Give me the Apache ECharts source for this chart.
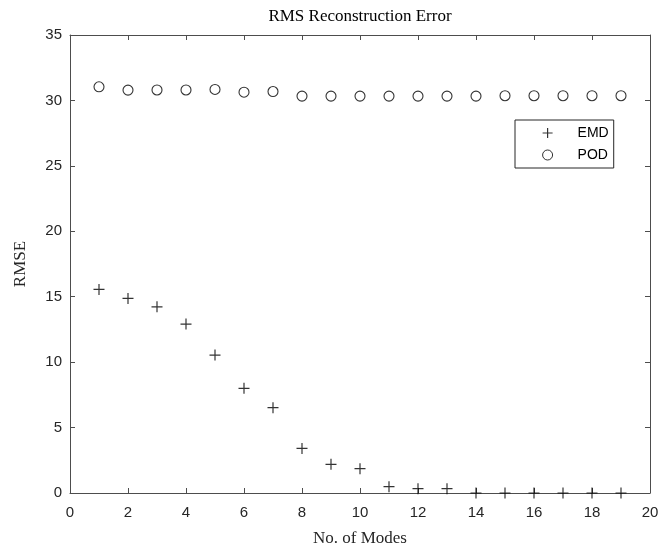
<!DOCTYPE html>
<html>
<head>
<meta charset="utf-8">
<script src="https://cdn.jsdelivr.net/npm/echarts@6/dist/echarts.min.js"></script>
<style>
  html, body { margin: 0; padding: 0; background: #fff; }
  #chart { width: 662px; height: 549px; }
</style>
</head>
<body>
<div id="chart"></div>
<script>
// Number of modes used in the reconstruction
const modes = [1, 2, 3, 4, 5, 6, 7, 8, 9, 10, 11, 12, 13, 14, 15, 16, 17, 18, 19];
// RMS reconstruction error per method
const emdRmse = [15.56, 14.87, 14.23, 12.91, 10.54, 8.0, 6.52, 3.41, 2.19, 1.86, 0.48, 0.33, 0.33, 0.0, 0.0, 0.0, 0.0, 0.0, 0.0];
const podRmse = [31.04, 30.79, 30.8, 30.8, 30.84, 30.63, 30.68, 30.33, 30.33, 30.33, 30.33, 30.33, 30.33, 30.33, 30.36, 30.36, 30.36, 30.36, 30.36];
// Axis ranges and tick spacing
const xRange = [0, 20], xStep = 2;
const yRange = [0, 35], yStep = 5;

const axisColor = '#4d4d4d';
const labelColor = '#262626';
const serif = '"Liberation Serif", "Times New Roman", serif';
const sans = '"Liberation Sans", Arial, sans-serif';

const plusPath = 'path://M0,5L10,5M5,0L5,10';

function pairs(ys) { return modes.map((m, i) => [m, ys[i]]); }

// Mirror axes that close the box on the top and right sides
const frameAxis = (pos, range, step) => ({
  type: 'value', position: pos, min: range[0], max: range[1], interval: step,
  axisLine: { show: true, onZero: false, lineStyle: { color: axisColor, width: 1 } },
  axisTick: { show: true, inside: true, length: 5, lineStyle: { color: axisColor } },
  axisLabel: { show: false }, splitLine: { show: false }
});

const chart = echarts.init(document.getElementById('chart'), null, { renderer: 'canvas' });
chart.setOption({
  backgroundColor: '#fff',
  animation: false,
  title: {
    text: 'RMS Reconstruction Error', left: 355, top: 3, textAlign: 'center',
    textStyle: { fontFamily: serif, fontSize: 17, fontWeight: 'normal', color: '#000' }
  },
  grid: { left: 70, right: 12, top: 35, bottom: 56, containLabel: false, outerBoundsMode: 'none' },
  legend: {
    orient: 'vertical', left: 515, top: 120,
    backgroundColor: '#fff', borderColor: '#262626', borderWidth: 1,
    padding: [6, 5, 6, 27], itemGap: 8, itemWidth: 22, itemHeight: 10,
    textStyle: { fontFamily: sans, fontSize: 14, color: '#000', padding: [0, 0, 0, 14] },
    data: [
      { name: 'EMD', icon: plusPath, itemStyle: { color: 'transparent', borderColor: '#000', borderWidth: 1.2 } },
      { name: 'POD', icon: 'circle', itemStyle: { color: 'transparent', borderColor: '#000', borderWidth: 1 } }
    ]
  },
  xAxis: [
    {
      type: 'value', position: 'bottom', min: xRange[0], max: xRange[1], interval: xStep,
      name: 'No. of Modes', nameLocation: 'middle', nameGap: 37,
      nameTextStyle: { fontFamily: serif, fontSize: 17, color: labelColor },
      axisLine: { show: true, onZero: false, lineStyle: { color: axisColor, width: 1 } },
      axisTick: { show: true, inside: true, length: 5, lineStyle: { color: axisColor } },
      axisLabel: { fontFamily: sans, fontSize: 15, color: labelColor, margin: 12 },
      splitLine: { show: false }
    },
    frameAxis('top', xRange, xStep)
  ],
  yAxis: [
    {
      type: 'value', position: 'left', min: yRange[0], max: yRange[1], interval: yStep,
      name: 'RMSE', nameLocation: 'middle', nameGap: 41, nameRotate: 90,
      nameTextStyle: { fontFamily: serif, fontSize: 17, color: labelColor },
      axisLine: { show: true, onZero: false, lineStyle: { color: axisColor, width: 1 } },
      axisTick: { show: true, inside: true, length: 5, lineStyle: { color: axisColor } },
      axisLabel: { fontFamily: sans, fontSize: 15, color: labelColor, margin: 8 },
      splitLine: { show: false }
    },
    frameAxis('right', yRange, yStep)
  ],
  series: [
    {
      name: 'EMD', type: 'scatter', xAxisIndex: 0, yAxisIndex: 0,
      symbol: plusPath, symbolSize: 11,
      itemStyle: { color: 'transparent', borderColor: '#000', borderWidth: 1.2 },
      data: pairs(emdRmse)
    },
    {
      name: 'POD', type: 'scatter', xAxisIndex: 0, yAxisIndex: 0,
      symbol: 'circle', symbolSize: 10,
      itemStyle: { color: 'transparent', borderColor: '#000', borderWidth: 1.1 },
      data: pairs(podRmse)
    }
  ]
});
</script>
</body>
</html>
